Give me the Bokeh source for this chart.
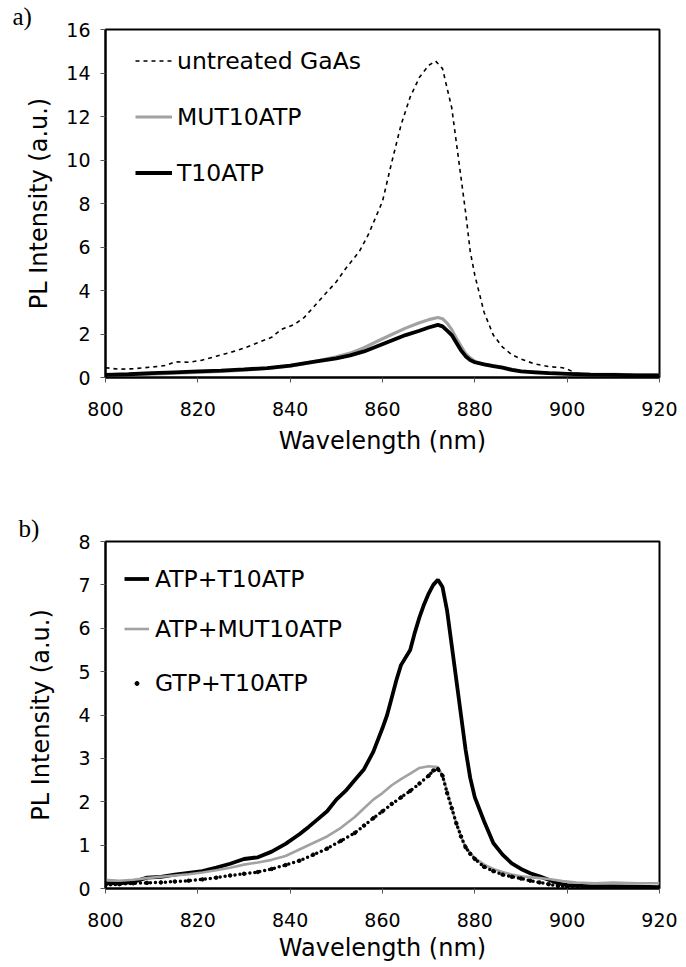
from bokeh.plotting import figure
from bokeh.layouts import column
from bokeh.models import Legend, LegendItem, FixedTicker
from bokeh.embed import file_html
from bokeh.resources import INLINE

# ---------------- data: panel a ----------------
untreated_wl = [800, 803, 806, 810, 813, 815, 818, 821, 824, 827, 830, 833, 836, 838, 841,
                843, 847, 850, 852, 855, 857, 860, 862, 864, 866, 868, 870, 871.5, 873, 874,
                875, 876, 877, 878, 879, 880, 882, 884, 886, 888, 890, 893, 896, 899, 900,
                902, 905, 910, 915, 920]
untreated_pl = [0.45, 0.38, 0.40, 0.48, 0.55, 0.72, 0.70, 0.80, 0.98, 1.15, 1.35, 1.60, 1.85, 2.2, 2.45,
                2.75, 3.7, 4.4, 5.0, 5.8, 6.6, 8.1, 9.9, 11.6, 12.9, 13.8, 14.35, 14.55, 14.2, 13.3,
                12.4, 10.8, 9.2, 7.6, 5.8, 4.7, 3.0, 1.95, 1.4, 1.05, 0.85, 0.62, 0.5, 0.45, 0.38,
                0.2, 0.15, 0.12, 0.1, 0.1]

mut_wl = [800, 805, 810, 815, 820, 825, 830, 835, 840, 845, 850, 853, 856, 859, 862, 865, 868,
          870, 872, 873, 874, 875, 876, 877, 878, 879, 880, 882, 885, 888, 890, 895, 900, 905,
          910, 915, 920]
mut_pl = [0.1, 0.1, 0.15, 0.2, 0.24, 0.28, 0.34, 0.42, 0.52, 0.72, 0.95, 1.12, 1.37, 1.68, 1.98,
          2.27, 2.52, 2.66, 2.76, 2.7, 2.5, 2.2, 1.8, 1.45, 1.1, 0.9, 0.75, 0.6, 0.5, 0.38, 0.3,
          0.22, 0.18, 0.15, 0.14, 0.12, 0.12]

t10_wl = [800, 805, 810, 815, 820, 825, 830, 835, 840, 845, 850, 853, 856, 859, 862, 865, 868,
          870, 872, 873, 874, 875, 876, 877, 878, 879, 880, 882, 884, 886, 888, 890, 893, 896,
          900, 905, 910, 915, 920]
t10_pl = [0.12, 0.15, 0.2, 0.24, 0.28, 0.32, 0.37, 0.43, 0.55, 0.72, 0.88, 1.02, 1.2, 1.45, 1.7,
          1.95, 2.15, 2.3, 2.42, 2.35, 2.15, 1.95, 1.6, 1.25, 0.98, 0.8, 0.7, 0.6, 0.52, 0.45,
          0.35, 0.28, 0.24, 0.2, 0.17, 0.13, 0.12, 0.1, 0.1]

# ---------------- data: panel b ----------------
atp_t10_wl = [800, 803, 806, 809, 812, 815, 818, 821, 824, 827, 830, 833, 836, 839, 842, 844,
              846, 848, 850, 852, 854, 856, 858, 860, 861, 862, 863, 864, 866, 867, 868, 869,
              870, 871, 872, 873, 874, 875, 876, 877, 878, 879, 880, 882, 884, 886, 888, 890,
              892, 894, 896, 898, 900, 905, 910, 915, 920]
atp_t10_pl = [0.12, 0.12, 0.15, 0.25, 0.27, 0.32, 0.36, 0.4, 0.48, 0.57, 0.68, 0.72, 0.85, 1.03,
              1.25, 1.42, 1.6, 1.78, 2.05, 2.25, 2.5, 2.75, 3.15, 3.7, 4.0, 4.4, 4.8, 5.15, 5.5,
              5.9, 6.25, 6.55, 6.8, 7.0, 7.12, 6.95, 6.4, 5.6, 4.8, 4.0, 3.2, 2.55, 2.1, 1.55,
              1.05, 0.78, 0.58, 0.45, 0.35, 0.28, 0.2, 0.12, 0.08, 0.05, 0.05, 0.04, 0.03]

atp_mut_wl = [800, 803, 806, 809, 812, 815, 818, 821, 824, 827, 830, 833, 836, 839, 842, 845,
              848, 851, 854, 856, 858, 860, 862, 864, 866, 868, 870, 872, 873, 874, 875, 876,
              877, 878, 880, 882, 884, 886, 888, 890, 893, 896, 899, 902, 906, 910, 915, 920]
atp_mut_pl = [0.2, 0.18, 0.2, 0.24, 0.27, 0.3, 0.33, 0.37, 0.42, 0.48, 0.55, 0.6, 0.66, 0.75,
              0.9, 1.05, 1.2, 1.4, 1.65, 1.85, 2.05, 2.2, 2.38, 2.52, 2.65, 2.78, 2.82, 2.8, 2.6,
              2.25, 1.85, 1.5, 1.2, 0.95, 0.7, 0.55, 0.45, 0.38, 0.32, 0.28, 0.25, 0.22, 0.17,
              0.14, 0.12, 0.14, 0.12, 0.12]

gtp_t10_wl = [800, 803, 806, 809, 812, 815, 818, 821, 824, 827, 830, 833, 836, 839, 842, 845,
              848, 851, 854, 856, 858, 860, 862, 864, 866, 868, 870, 871, 872, 873, 874, 875,
              876, 877, 878, 879, 880, 882, 884, 886, 888, 890, 892, 894, 896, 898, 900, 905,
              910, 915, 920]
gtp_t10_pl = [0.08, 0.1, 0.12, 0.13, 0.14, 0.16, 0.18, 0.21, 0.25, 0.3, 0.34, 0.38, 0.45, 0.54,
              0.64, 0.78, 0.92, 1.1, 1.28, 1.45, 1.62, 1.78, 1.95, 2.1, 2.25, 2.42, 2.6, 2.72,
              2.75, 2.6, 2.2, 1.85, 1.5, 1.2, 0.95, 0.8, 0.68, 0.5, 0.4, 0.32, 0.27, 0.23, 0.18,
              0.14, 0.1, 0.06, 0.04, 0.03, 0.03, 0.02, 0.02]

x_ticks = [800, 820, 840, 860, 880, 900, 920]
ya_ticks = [0, 2, 4, 6, 8, 10, 12, 14, 16]
yb_ticks = [0, 1, 2, 3, 4, 5, 6, 7, 8]

FONT = "DejaVu Sans"
GRAY = "#a2a2a2"


def make_fig(height, ymax, yticks, borders, y_title_standoff, x_title_standoff, tag):
    left, right, top, bottom = borders
    p = figure(width=686, height=height, x_range=(800, 920), y_range=(0, ymax),
               output_backend="svg", toolbar_location=None)
    p.min_border_left = left
    p.min_border_right = right
    p.min_border_top = top
    p.min_border_bottom = bottom
    p.background_fill_color = "white"
    p.border_fill_color = "white"
    p.outline_line_color = "black"
    p.outline_line_width = 2
    p.outline_line_alpha = 1
    p.grid.visible = False
    # panel tag "a)" / "b)" drawn as the title, shifted left of the frame
    p.title.text = tag
    p.title.align = "left"
    p.title.offset = -(left - 12)
    p.title.standoff = 0
    p.title.text_font = "Liberation Serif"
    p.title.text_font_size = "25px"
    p.title.text_font_style = "normal"
    p.title.text_color = "black"
    p.xaxis.ticker = FixedTicker(ticks=x_ticks)
    p.yaxis.ticker = FixedTicker(ticks=yticks)
    p.xaxis.axis_label = "Wavelength (nm)"
    p.yaxis.axis_label = "PL Intensity (a.u.)"
    for ax in (p.xaxis, p.yaxis):
        ax.axis_line_color = "black"
        ax.axis_line_width = 2
        ax.major_tick_in = 0
        ax.major_tick_out = 5
        ax.major_tick_line_color = "#555555"
        ax.major_tick_line_width = 1
        ax.minor_tick_line_color = None
        ax.major_label_text_font = FONT
        ax.major_label_text_font_size = "19px"
        ax.major_label_text_color = "black"
        ax.axis_label_text_font = FONT
        ax.axis_label_text_font_size = "24px"
        ax.axis_label_text_font_style = "normal"
        ax.axis_label_text_color = "black"
    p.xaxis.major_label_standoff = 19
    p.yaxis.major_label_standoff = 10
    p.xaxis.axis_label_standoff = x_title_standoff
    p.yaxis.axis_label_standoff = y_title_standoff
    return p


def make_legend(items, x, y, glyph_w, glyph_h, spacing, standoff):
    return Legend(items=items, location=(x, y),
                  glyph_width=glyph_w, glyph_height=glyph_h, label_height=27,
                  spacing=spacing, padding=0, margin=0, label_standoff=standoff,
                  border_line_alpha=0, background_fill_alpha=0,
                  label_text_font=FONT, label_text_font_size="23.5px",
                  label_text_color="black")


# ---------------- panel a ----------------
pa = make_fig(480, 16, ya_ticks, (105, 20, 28, 103), 10, 8, "a)")
r_u = pa.line(untreated_wl, untreated_pl, line_color="black", line_width=1.6,
              line_dash="4 4")
r_m = pa.line(mut_wl, mut_pl, line_color=GRAY, line_width=3.2)
r_t = pa.line(t10_wl, t10_pl, line_color="black", line_width=3.8)

fh_a = 480 - 28 - 103
pa.add_layout(make_legend([LegendItem(label="untreated GaAs", renderers=[r_u]),
                           LegendItem(label="MUT10ATP", renderers=[r_m]),
                           LegendItem(label="T10ATP", renderers=[r_t])],
                          30, fh_a - 21.5 - (3 * 27 + 2 * 28), 37, 27, 28, 5))

# ---------------- panel b ----------------
pb = make_fig(487, 8, yb_ticks, (99, 27, 61, 79), 20, 4, "b)")
r_at = pb.line(atp_t10_wl, atp_t10_pl, line_color="black", line_width=3.8)
r_am = pb.line(atp_mut_wl, atp_mut_pl, line_color=GRAY, line_width=2.6)
r_gl = pb.line(gtp_t10_wl, gtp_t10_pl, line_color="black", line_width=3.5,
               line_dash="0 5", line_cap="round")
r_gs = pb.scatter(gtp_t10_wl, gtp_t10_pl, size=3.5, color="black")

fh_b = 487 - 61 - 79
top_b = fh_b - 25.5
pb.add_layout(make_legend([LegendItem(label="ATP+T10ATP", renderers=[r_at]),
                           LegendItem(label="ATP+MUT10ATP", renderers=[r_am])],
                          19, top_b - (2 * 27 + 22), 25, 27, 22, 6))
pb.add_layout(make_legend([LegendItem(label="GTP+T10ATP", renderers=[r_gs])],
                          19, top_b - (3 * 27 + 22 + 27), 25, 10, 0, 6))

layout = column(pa, pb, spacing=0)
open("out.html", "w").write(file_html(layout, INLINE))
